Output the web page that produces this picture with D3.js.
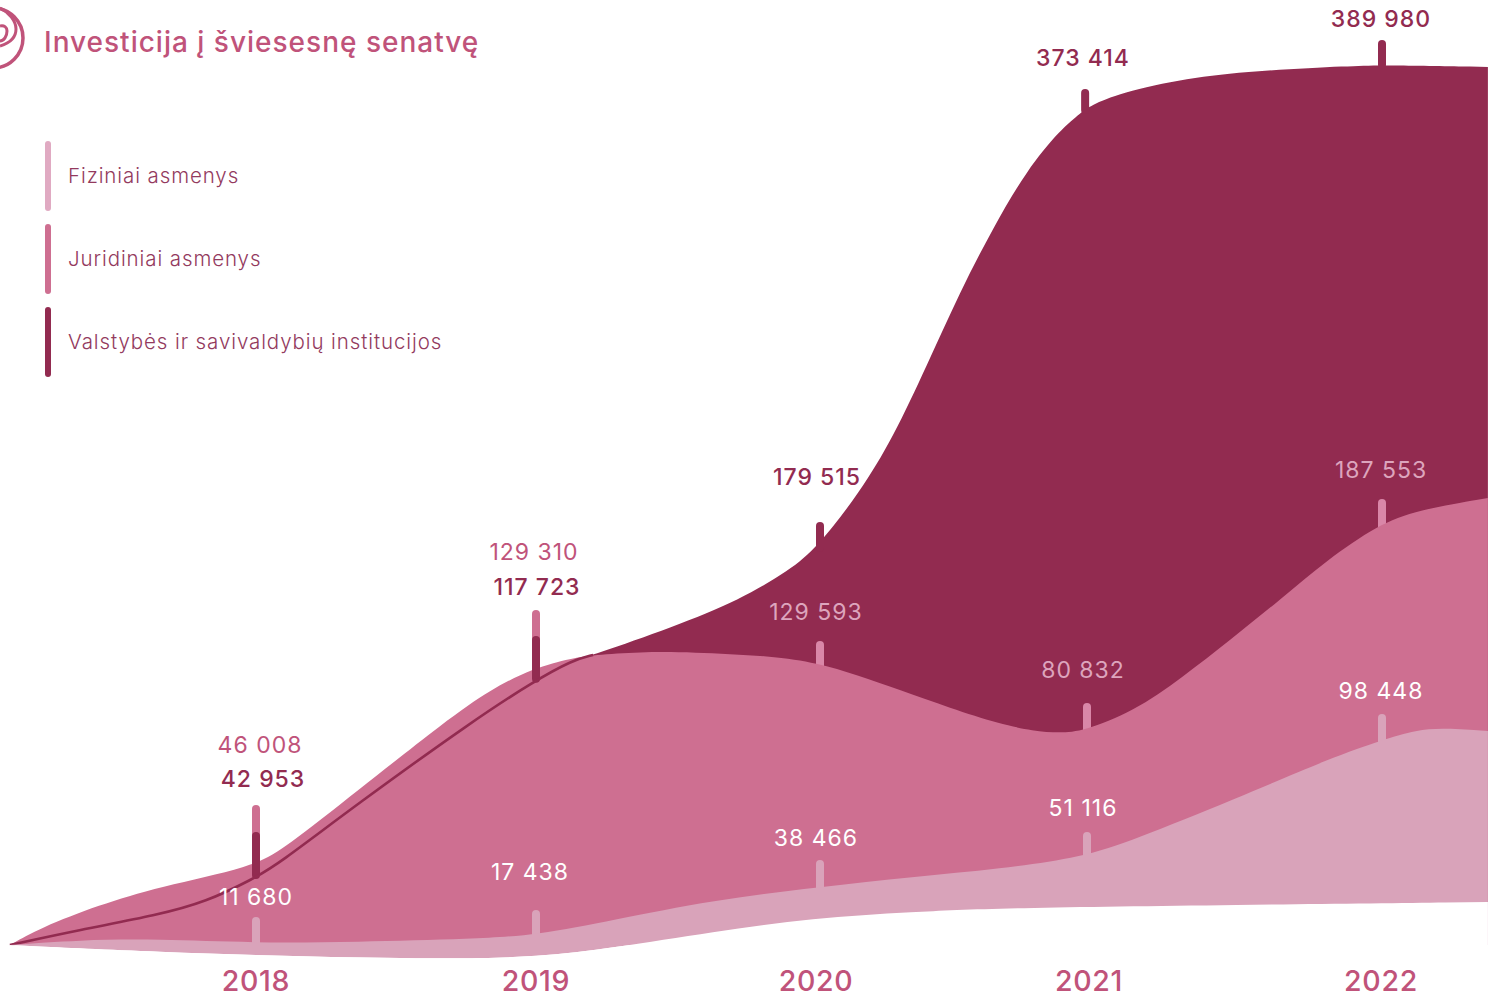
<!DOCTYPE html>
<html>
<head>
<meta charset="utf-8">
<script src="https://cdn.jsdelivr.net/npm/d3@7"></script>
<style>
html, body { margin: 0; padding: 0; background: #fff; overflow: hidden; }
text { font-family: Inter, "Noto Sans", sans-serif; }
</style>
</head>
<body>
<div id="chart"></div>
<script>
var years = [2018, 2019, 2020, 2021, 2022];

var fizLabels = ['11 680', '17 438', '38 466', '51 116', '98 448'];
var jurLabels = ['46 008', '129 310', '129 593', '80 832', '187 553'];
var valLabels = ['42 953', '117 723', '179 515', '373 414', '389 980'];

// outlines of the three shapes: [year, value]
var valTop = [[2017.121, 0], [2017.368, 6648], [2017.65, 13296], [2017.821, 19058], [2017.989, 29251],
	[2018.075, 35456], [2018.357, 62048], [2018.779, 99720], [2018.989, 116562], [2019.13, 126312],
	[2019.201, 128528], [2019.482, 140938], [2019.718, 152904], [2019.894, 166200], [2019.989, 175950],
	[2020.15, 200770], [2020.273, 224702], [2020.401, 257056], [2020.524, 289410], [2020.648, 317774],
	[2020.775, 343480], [2020.899, 361208], [2020.981, 369186], [2021.01, 371845], [2021.112, 377606],
	[2021.339, 384254], [2021.563, 387357], [2021.902, 389578], [2022, 389980], [2022.359, 389130]];

var jurTop = [[2017.121, 0], [2017.229, 7534], [2017.439, 17728], [2017.65, 25706], [2017.989, 34570],
	[2018.104, 42990], [2018.357, 67810], [2018.682, 99720], [2018.836, 113016], [2018.989, 122766],
	[2019.13, 127198], [2019.201, 128528], [2019.366, 129858], [2019.542, 129858], [2019.835, 128085],
	[2019.989, 124982], [2020.139, 119664], [2020.3, 113016], [2020.487, 105038], [2020.674, 97947],
	[2020.798, 94845], [2020.899, 93958], [2020.985, 94845], [2021.156, 103266], [2021.325, 118778],
	[2021.485, 135176], [2021.654, 152904], [2021.814, 170632], [2021.986, 186144], [2022.119, 192792],
	[2022.359, 198110]];

var fizTop = [[2017.121, 0], [2017.368, 2216], [2017.65, 2659], [2017.989, 886], [2018.357, 1330],
	[2018.779, 2659], [2019.004, 4432], [2019.271, 11080], [2019.623, 19944], [2020, 25706],
	[2020.348, 30138], [2020.674, 33683], [2020.985, 39002], [2021.156, 46536], [2021.495, 64264],
	[2021.834, 83322], [2022, 90856], [2022.119, 95288], [2022.207, 96174], [2022.359, 94845]];

var fizBottom = [[2017.121, 0], [2017.65, -3102], [2018.214, -5318], [2018.711, -6205], [2019.004, -5318],
	[2019.271, -1330], [2019.623, 5762], [2019.975, 11966], [2020.348, 14626], [2020.674, 16398],
	[2021.495, 17728], [2022.359, 19058]];

// how high each little tick reaches, on the same value scale
var fizTickTop = [12410, 15512, 37672, 50082, 102379];
var jurTickTop = [62048, 148472, 134733, 107254, 197667];
var valTickTop = [50082, 136949, 187474, 379379, 401096];
var valTickBase = [31000, 118000, 176000, 370000, 389980];
var valTickYears = [2018, 2019, 2020, 2020.993, 2022];

var legendNames = ['Fiziniai asmenys', 'Juridiniai asmenys', 'Valstybės ir savivaldybių institucijos'];

var width = 1488, height = 998;
var darkColor = '#922b50', midColor = '#ce6f91', paleColor = '#d9a3ba', labelPink = '#c0537a';

// label placement, one entry per year
var fizLabelX = [256, 530, 816, 1083, 1381], fizLabelY = [905, 880, 846, 816, 699];
var jurLabelX = [260, 534, 816, 1083, 1381], jurLabelY = [753, 560, 620, 678, 478];
var valLabelX = [263, 537, 817, 1083, 1381], valLabelY = [787, 595, 485, 66, 27];
var yearLabelX = [256, 536, 816, 1089, 1381];

var svg = d3.select('#chart').append('svg').attr('width', width).attr('height', height).style('display', 'block');

// the years are not evenly spaced in the original
var x = d3.scaleLinear().domain([2017, 2018, 2019, 2020, 2021, 2022, 2023]).range([-24, 256, 536, 820, 1087, 1382, 1677]);
var y = d3.scaleLinear().domain([0, 389980]).range([945, 65]);

var curve = d3.curveBasis;

function areaTo(base) {
	return d3.area().curve(curve)
		.x(function(d) { return x(d[0]); })
		.y0(base)
		.y1(function(d) { return y(d[1]); });
}

var line = d3.line().curve(curve)
	.x(function(d) { return x(d[0]); })
	.y(function(d) { return y(d[1]); });

function ticks(where, top, base, color) {
	svg.append('g').selectAll('line').data(where).enter().append('line')
		.attr('x1', function(d) { return x(d); })
		.attr('x2', function(d) { return x(d); })
		.attr('y1', function(d, i) { return y(top[i]) + 4; })
		.attr('y2', function(d, i) { return y(base ? base[i] : 0); })
		.attr('stroke', color)
		.attr('stroke-width', 8)
		.attr('stroke-linecap', 'round');
}

function labels(names, xs, ys, color, weight) {
	svg.append('g').selectAll('text').data(names).enter().append('text')
		.attr('x', function(d, i) { return xs[i]; })
		.attr('y', function(d, i) { return ys[i]; })
		.attr('text-anchor', 'middle')
		.attr('font-size', 23)
		.attr('font-weight', weight)
		.attr('letter-spacing', 1)
		.attr('fill', typeof color === 'function' ? function(d, i) { return color(i); } : color)
		.text(function(d) { return d; });
}

// back to front: dark shape, middle shape, pale band, then white under the band
svg.append('path').attr('d', areaTo(y(0))(valTop)).attr('fill', darkColor);
ticks(years, jurTickTop, null, function(d, i) { return i < 2 ? midColor : '#d987a8'; });
svg.append('path').attr('d', areaTo(y(0))(jurTop)).attr('fill', midColor);
ticks(years, fizTickTop, null, paleColor);
ticks(valTickYears, valTickTop, valTickBase, darkColor);
svg.append('path').attr('d', line(valTop.filter(function(d) { return d[0] < 2019.25; })))
	.attr('fill', 'none').attr('stroke', darkColor).attr('stroke-width', 2.6);

svg.append('path').attr('d', areaTo(y(0))(fizTop)).attr('fill', paleColor);
svg.append('path').attr('d', areaTo(y(0))(fizBottom)).attr('fill', paleColor);
svg.append('path').attr('d', areaTo(height)(fizBottom)).attr('fill', '#fff');

labels(fizLabels, fizLabelX, fizLabelY, '#fff', 400);
labels(jurLabels, jurLabelX, jurLabelY, function(i) { return i < 2 ? labelPink : '#dda5bd'; }, 400);
labels(valLabels, valLabelX, valLabelY, darkColor, 500);

svg.append('g').selectAll('text').data(years).enter().append('text')
	.attr('x', function(d, i) { return yearLabelX[i]; })
	.attr('y', 991)
	.attr('text-anchor', 'middle')
	.attr('font-size', 28.5)
	.attr('font-weight', 500)
	.attr('letter-spacing', 0.7)
	.attr('fill', labelPink)
	.text(function(d) { return d; });

// title and logo
svg.append('text').attr('x', 44).attr('y', 52)
	.attr('font-size', 28).attr('font-weight', 500).attr('letter-spacing', 1).attr('fill', labelPink)
	.text('Investicija į šviesesnę senatvę');

var logo = svg.append('g').attr('fill', 'none').attr('stroke', labelPink).attr('stroke-width', 3.5);
logo.append('circle').attr('cx', -7).attr('cy', 38).attr('r', 30);
logo.append('path').attr('d', 'M0,8 C9,12 16,21 16,29 C16,37 10,43 0,46').attr('stroke-width', 3);
logo.append('path').attr('d', 'M0,26 C4,25 7,27 7,31 C7,36 4,41 0,41').attr('stroke-width', 3);

// legend
var legendColors = ['#e0aac2', midColor, darkColor];
var legend = svg.append('g').selectAll('g').data(legendNames).enter().append('g')
	.attr('transform', function(d, i) { return 'translate(48,' + (141 + i * 83) + ')'; });
legend.append('rect').attr('x', -3).attr('width', 6).attr('height', 70).attr('rx', 3)
	.attr('fill', function(d, i) { return legendColors[i]; });
legend.append('text').attr('x', 20).attr('y', 42)
	.attr('font-size', 20.5).attr('font-weight', 300).attr('letter-spacing', 0.9).attr('fill', '#933a5e')
	.text(function(d) { return d; });
</script>
</body>
</html>
